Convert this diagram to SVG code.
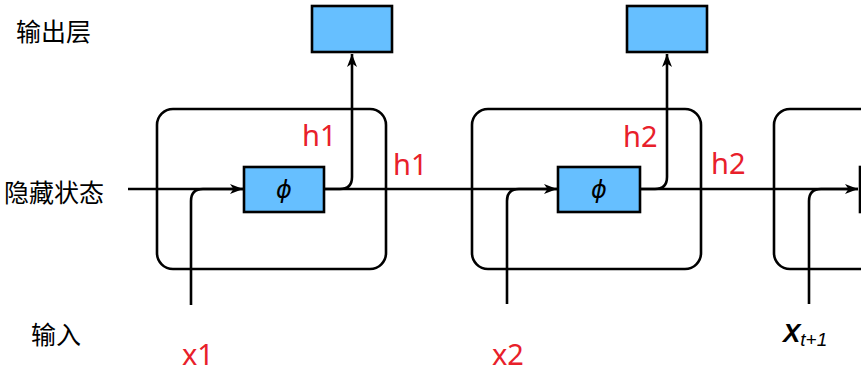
<svg xmlns="http://www.w3.org/2000/svg" width="861" height="384" viewBox="0 0 861 384">
<style>
.cell{fill:none;stroke:#000;stroke-width:2.6}
.phi{fill:#66bfff;stroke:#000;stroke-width:2.6}
.out{fill:#66bfff;stroke:#000;stroke-width:2.6}
.ln{fill:none;stroke:#000;stroke-width:2.6}
.red{fill:#e8202a;font-family:"Noto Sans","Open Sans","DejaVu Sans",sans-serif;font-size:29px}
.zh{fill:#000;font-family:"Noto Sans CJK SC",sans-serif;font-size:25px;dominant-baseline:central}
.phit{fill:#000;font-family:"DejaVu Sans",sans-serif;font-size:24px;font-style:italic;text-anchor:middle;dominant-baseline:central}
</style>
<defs>
<marker id="arr" markerUnits="userSpaceOnUse" markerWidth="14" markerHeight="12" refX="13" refY="6" orient="auto">
<path d="M0,1 L13,6 L0,11 L3.5,6 Z" fill="#000"/>
</marker>
</defs>
<rect width="861" height="384" fill="#fff"/>
<g id="labels-left">
<text class="zh" x="16" y="30">输出层</text>
<text class="zh" x="4" y="190.5">隐藏状态</text>
<text class="zh" x="31" y="333">输入</text>
</g>
<g id="cell1">
<rect class="cell" x="157" y="109" width="229" height="160" rx="16"/>
</g>
<g id="cell2">
<rect class="cell" x="472" y="109" width="229" height="160" rx="16"/>
</g>
<g id="cell3">
<rect class="cell" x="774" y="109" width="229" height="160" rx="16"/>
</g>
<g id="connectors">
<path class="ln" d="M128,189 H243" marker-end="url(#arr)"/>
<path class="ln" d="M191,305 V201 Q191,189 203,189 H243"/>
<path class="ln" d="M324,189 H340 Q352,189 352,177 V54" marker-end="url(#arr)"/>
<path class="ln" d="M324,189 H557" marker-end="url(#arr)"/>
<path class="ln" d="M507,304 V201 Q507,189 519,189 H557"/>
<path class="ln" d="M640,189 H655 Q667,189 667,177 V54" marker-end="url(#arr)"/>
<path class="ln" d="M640,189 H858" marker-end="url(#arr)"/>
<path class="ln" d="M809,304 V201 Q809,189 821,189 H858"/>
</g>
<g id="phi1">
<rect class="phi" x="244" y="167" width="80" height="45"/>
<text class="phit" x="284" y="190">ϕ</text>
</g>
<g id="phi2">
<rect class="phi" x="558" y="167" width="82" height="45"/>
<text class="phit" x="599" y="190">ϕ</text>
</g>
<g id="phi3">
<rect class="phi" x="860" y="167" width="80" height="45"/>
</g>
<g id="out1">
<rect class="out" x="312" y="6" width="80" height="46"/>
</g>
<g id="out2">
<rect class="out" x="627" y="6" width="80" height="46"/>
</g>
<g id="labels">
<text class="red" x="302" y="146">h1</text>
<text class="red" x="393" y="175">h1</text>
<text class="red" x="623" y="147">h2</text>
<text class="red" x="711" y="174">h2</text>
<text class="red" x="182" y="365">x1</text>
<text class="red" x="492" y="365">x2</text>
<text x="783" y="342" font-family="Liberation Sans,Arial,sans-serif" font-weight="bold" font-style="italic" font-size="26" fill="#000">X<tspan font-size="19" font-weight="normal" dy="4">t+1</tspan></text>
</g>
</svg>
